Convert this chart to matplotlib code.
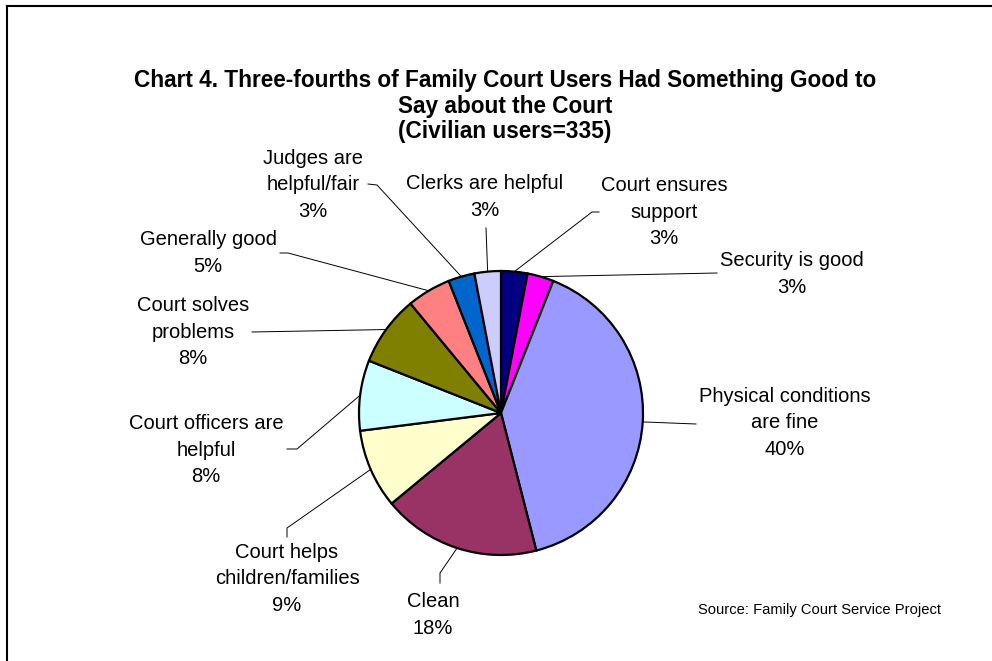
import numpy as np
import matplotlib.pyplot as plt

plt.rcParams['font.family'] = ['Liberation Sans', 'DejaVu Sans']

categories = ['Court ensures\nsupport', 'Security is good', 'Physical conditions\nare fine', 'Clean',
              'Court helps\nchildren/families', 'Court officers are\nhelpful', 'Court solves\nproblems',
              'Generally good', 'Judges are\nhelpful/fair', 'Clerks are helpful']
shares = [3, 3, 40, 18, 9, 8, 8, 5, 3, 3]
colors = ['#000080', '#FF00FF', '#9999FF', '#993366', '#FFFFCC',
          '#CCFFFF', '#808000', '#FF8080', '#0066CC', '#CCCCFF']

W, H = 992, 661
# pie placement in pixel units (y measured from the top)
cx, cy, rad = 501, 413, 142

# label block centres and the leader-line points on the label side
label_xy = [(664, 212), (792, 274), (785, 423), (433, 615), (287, 579),
            (206, 450), (193, 332), (208, 253), (313, 185), (485, 197)]
leader_pts = [[(599, 212), (592, 212)], [(717, 273)], [(696, 424)], [(440, 583), (440, 573)],
              [(287, 537), (287, 528)], [(287, 449), (297, 449)], [(252, 332)],
              [(280, 253), (288, 253)], [(368, 184), (377, 185)], [(486, 228)]]

fig = plt.figure(figsize=(W / 100, H / 100), dpi=100, facecolor='white')
ax = fig.add_axes([0, 0, 1, 1])

ax.pie(shares, colors=colors, startangle=90, counterclock=False,
       center=(cx, H - cy), radius=rad,
       wedgeprops={'linewidth': 1.6, 'edgecolor': 'black'})
ax.set_xlim(0, W)
ax.set_ylim(0, H)
ax.set_aspect('auto')
ax.axis('off')

total = float(sum(shares))
cum = np.cumsum([0] + shares[:-1])
for i, (lab, v) in enumerate(zip(categories, shares)):
    mid = np.deg2rad(90 - 360 * (cum[i] + v / 2) / total)
    px, py = cx + rad * np.cos(mid), cy - rad * np.sin(mid)
    pts = leader_pts[i] + [(px, py)]
    ax.plot([p[0] for p in pts], [H - p[1] for p in pts], color='black', lw=0.7, zorder=0)
    tx, ty = label_xy[i]
    ax.text(tx, H - ty, f'{lab}\n{v}%', ha='center', va='center', fontsize=14.5,
            linespacing=1.5, color='black')

ax.text(505, H - 106, 'Chart 4. Three-fourths of Family Court Users Had Something Good to\n'
        'Say about the Court\n(Civilian users=335)', ha='center', va='center',
        fontsize=16.3, fontweight='bold', linespacing=1.16)

ax.text(819, H - 610, 'Source: Family Court Service Project', ha='center', va='center', fontsize=10.6)

# chart area border (top and left edges fall inside the image)
ax.plot([7, W], [H - 6, H - 6], color='black', lw=1.5, clip_on=False)
ax.plot([7, 7], [H - 6, 0], color='black', lw=1.5, clip_on=False)

fig.savefig('out.png', dpi=100, facecolor='white')
